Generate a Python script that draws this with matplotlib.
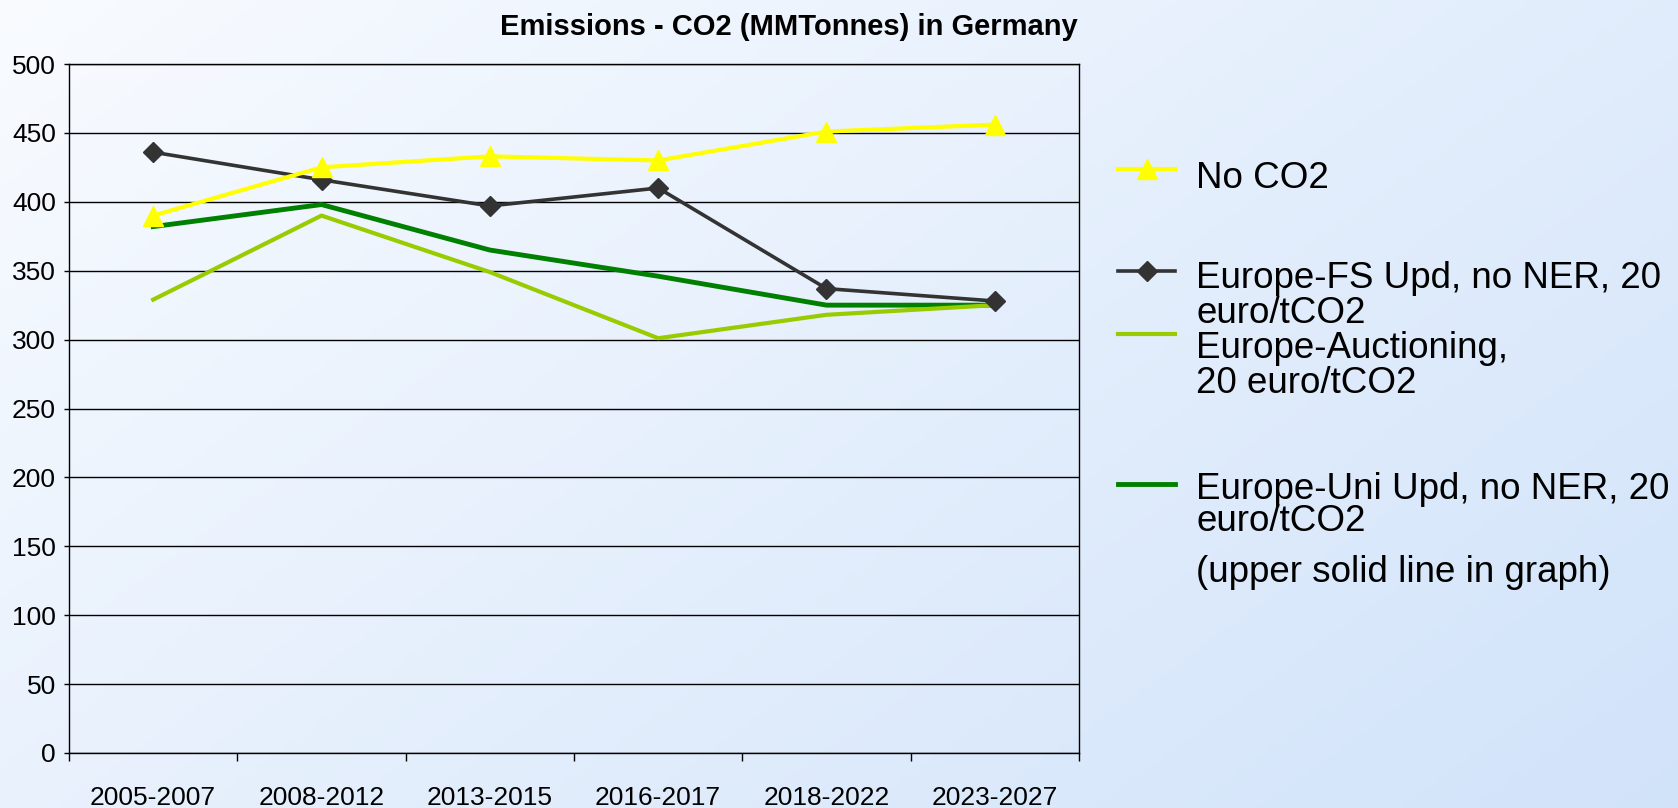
import numpy as np
import matplotlib.pyplot as plt
from matplotlib.lines import Line2D

plt.rcParams['font.family'] = ['Liberation Sans', 'DejaVu Sans']

periods = ['2005-2007', '2008-2012', '2013-2015', '2016-2017', '2018-2022', '2023-2027']
no_co2 = [390, 425, 433, 430, 451, 456]
fs_upd = [436, 416, 397, 410, 337, 328]
auctioning = [329, 390, 349, 301, 318, 325]
uni_upd = [382, 398, 365, 346, 325, 325]

W, H = 1678, 808
fig = plt.figure(figsize=(W / 100, H / 100), dpi=100)

# diagonal white -> light blue background
bg = fig.add_axes([0, 0, 1, 1], zorder=-10)
yy, xx = np.mgrid[0:1:200j, 0:1:400j]
t = (xx * 0.6 + yy * 0.4)
c0 = np.array([0.975, 0.985, 1.0])
c1 = np.array([0.82, 0.89, 0.98])
img = c0 + (c1 - c0) * t[..., None]
bg.imshow(img, aspect='auto', extent=[0, 1, 0, 1], origin='upper')
bg.axis('off')

ax = fig.add_axes([69 / W, 1 - 753 / H, 1010 / W, 689 / H])
ax.set_facecolor('none')

x = np.arange(len(periods))
ax.plot(x, uni_upd, color='#008000', lw=3.5, zorder=3)
ax.plot(x, auctioning, color='#99cc00', lw=3, zorder=3)
ax.plot(x, fs_upd, color='#333333', lw=2.6, marker='D', ms=10, zorder=4)
ax.plot(x, no_co2, color='#ffff00', lw=3, marker='^', ms=14, zorder=5)

ax.set_xlim(-0.5, len(periods) - 0.5)
ax.set_ylim(0, 500)
ax.set_yticks(np.arange(0, 501, 50))
ax.yaxis.grid(True, color='black', lw=1)
ax.set_axisbelow(True)

ax.set_xticks(np.arange(-0.5, len(periods), 1.0))
ax.set_xticklabels([])
ax.set_xticks(x, minor=True)
ax.set_xticklabels(periods, minor=True)
ax.tick_params(axis='x', which='major', direction='out', length=6, width=1, color='black')
ax.tick_params(axis='x', which='minor', length=0, pad=23.5, labelsize=19)
ax.tick_params(axis='y', direction='out', length=3.5, width=1, pad=6, labelsize=19)
for s in ax.spines.values():
    s.set_color('black')
    s.set_linewidth(1)

fig.text(789 / W, 1 - 27 / H, 'Emissions - CO2 (MMTonnes) in Germany',
         ha='center', va='center', fontsize=21, fontweight='bold')

# legend drawn by hand
hx0, hx1, tx = 1118 / W, 1175 / W, 1196 / W
handles = [
    (169, dict(color='#ffff00', lw=3, marker='^', ms=14)),
    (271, dict(color='#333333', lw=2.6, marker='D', ms=10)),
    (334, dict(color='#99cc00', lw=3)),
    (484, dict(color='#008000', lw=3.5)),
]
for ly, st in handles:
    fig.add_artist(Line2D([hx0, hx1], [1 - ly / H] * 2, transform=fig.transFigure,
                          color=st['color'], lw=st['lw']))
    if 'marker' in st:
        fig.add_artist(Line2D([(hx0 + hx1) / 2], [1 - ly / H], transform=fig.transFigure,
                              color=st['color'], marker=st['marker'], ms=st['ms'], lw=0))

# (text, centre y of first line in px, linespacing)
labels = [
    ('No CO2', 176, 1.0),
    ('Europe-FS Upd, no NER, 20\neuro/tCO2\nEurope-Auctioning,\n20 euro/tCO2', 276, 1.0),
    ('Europe-Uni Upd, no NER, 20\neuro/tCO2', 487, 0.9),
    ('(upper solid line in graph)', 570, 1.0),
]
for txt, cy, lsp in labels:
    fig.text(tx, 1 - (cy - 15) / H, txt, ha='left', va='top', fontsize=26.5,
             linespacing=lsp)

fig.savefig('out.png', dpi=100)
